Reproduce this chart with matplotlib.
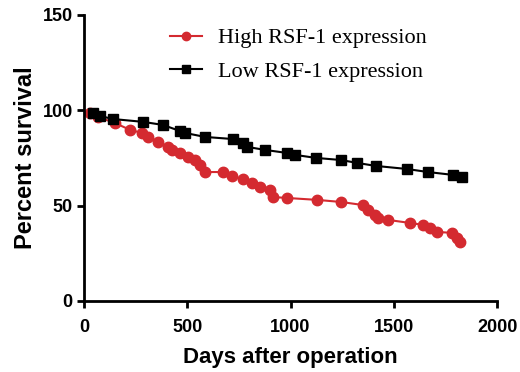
import matplotlib
matplotlib.use("Agg")
import matplotlib.pyplot as plt

# survival curves (days, percent)
high_days = [29, 68, 150, 223, 281, 310, 358, 407, 426, 465, 503, 537, 561, 586,
             673, 716, 770, 813, 852, 900, 915, 983, 1128, 1244, 1350, 1375, 1408,
             1423, 1471, 1578, 1641, 1675, 1709, 1781, 1805, 1820]
high_pct = [98.6, 96.5, 93.3, 89.7, 88.1, 86.0, 83.4, 80.8, 79.2, 77.6, 75.5, 73.9,
            71.3, 67.6, 67.6, 65.5, 64.0, 61.9, 59.8, 58.2, 54.5, 54.0, 53.0, 51.9,
            50.3, 47.7, 45.1, 43.5, 42.5, 40.9, 39.9, 38.3, 36.2, 35.7, 33.0, 30.9]

low_days = [44, 77, 140, 286, 382, 465, 489, 586, 721, 770, 789, 876, 983, 1021,
            1123, 1244, 1321, 1413, 1563, 1665, 1786, 1829]
low_pct = [98.6, 97.0, 95.4, 93.9, 92.3, 89.1, 88.1, 86.0, 84.9, 82.9, 80.8, 79.2,
           77.6, 76.6, 75.0, 73.9, 72.4, 70.8, 69.2, 67.6, 66.1, 65.0]

x_ticks = [0, 500, 1000, 1500, 2000]
y_ticks = [0, 50, 100, 150]

fig = plt.figure(figsize=(5.2, 3.72), dpi=100)
ax = fig.add_axes([0.1615, 0.191, 0.7945, 0.769])

ax.plot(high_days, high_pct, color="#d42a30", lw=1.5, marker="o", ms=7.5,
        mec="#d42a30", label="High RSF-1 expression")
ax.plot(low_days, low_pct, color="black", lw=1.5, marker="s", ms=7.5,
        label="Low RSF-1 expression")

ax.set_xlim(0, 2000)
ax.set_ylim(0, 150)
ax.set_xticks(x_ticks)
ax.set_yticks(y_ticks)

for s in ["top", "right"]:
    ax.spines[s].set_visible(False)
for s in ["left", "bottom"]:
    ax.spines[s].set_linewidth(2)
ax.tick_params(direction="out", length=5, width=2)
ax.tick_params(axis="x", pad=8)
ax.tick_params(axis="y", pad=3)
for lbl in ax.get_xticklabels() + ax.get_yticklabels():
    lbl.set_fontfamily("Liberation Sans")
    lbl.set_fontweight("bold")
    lbl.set_fontsize(13)

ax.set_xlabel("Days after operation", fontfamily="Liberation Sans",
              fontweight="bold", fontsize=16, labelpad=8)
ax.set_ylabel("Percent survival", fontfamily="Liberation Sans",
              fontweight="bold", fontsize=17, labelpad=4)

leg = ax.legend(loc="upper left", bbox_to_anchor=(0.208, 0.955), frameon=False,
                prop={"family": "Liberation Serif", "size": 16},
                handlelength=1.45, handletextpad=0.7, labelspacing=0.6,
                borderpad=0, borderaxespad=0)
for h in leg.legend_handles:
    h.set_markersize(6)

fig.savefig("out.png", dpi=100)
